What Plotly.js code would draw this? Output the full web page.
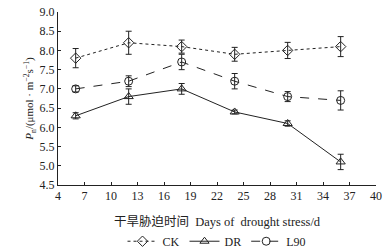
<!DOCTYPE html>
<html>
<head>
<meta charset="utf-8">
<script src="https://cdn.plot.ly/plotly-3.0.1.min.js"></script>
<style>html,body{margin:0;padding:0;background:#fff;}#chart{width:390px;height:252px;}</style>
</head>
<body>
<div id="chart"></div>
<script>
const days = [6, 12, 18, 24, 30, 36];
const ckValues = [7.8, 8.2, 8.1, 7.9, 8.0, 8.1];
const ckErrors = [0.25, 0.3, 0.17, 0.18, 0.21, 0.26];
const drValues = [6.3, 6.8, 7.0, 6.4, 6.1, 5.1];
const drErrors = [0.08, 0.2, 0.14, 0.05, 0.07, 0.2];
const l90Values = [7.0, 7.2, 7.7, 7.2, 6.8, 6.7];
const l90Errors = [0.08, 0.14, 0.2, 0.2, 0.13, 0.25];
const seriesNames = ['CK', 'DR', 'L90'];

const serif = 'Liberation Serif, Times New Roman, Noto Sans CJK SC, serif';
const ink = '#222';

function series(name, y, err, symbol, dash) {
  return {
    x: days, y: y, name: name, type: 'scatter', mode: 'lines+markers',
    line: {color: ink, width: 1, dash: dash},
    marker: {symbol: symbol, size: 8, color: ink, line: {color: ink, width: 1}},
    error_y: {type: 'data', array: err, visible: true, color: ink, thickness: 1, width: 3}
  };
}

const data = [
  series(seriesNames[0], ckValues, ckErrors, 'diamond-open', 'dot'),
  series(seriesNames[1], drValues, drErrors, 'triangle-up-open', 'solid'),
  series(seriesNames[2], l90Values, l90Errors, 'circle-open', 'dash')
];

const layout = {
  width: 390, height: 252,
  margin: {l: 58, r: 14, t: 12, b: 67, autoexpand: false},
  paper_bgcolor: '#fff', plot_bgcolor: '#fff',
  font: {family: serif, size: 12, color: ink},
  showlegend: true,
  legend: {orientation: 'h', x: 0.5, xanchor: 'center', y: -0.325, yanchor: 'middle',
           font: {family: serif, size: 12, color: ink}, tracegroupgap: 0},
  xaxis: {
    range: [4, 40], tick0: 4, dtick: 3, showgrid: false, zeroline: false,
    showline: true, linecolor: ink, linewidth: 1,
    ticks: 'inside', ticklen: 3, tickcolor: ink,
    tickfont: {family: serif, size: 12, color: ink},
    title: {text: '干旱胁迫时间  Days of  drought stress/d', font: {family: serif, size: 12.5, color: ink}, standoff: 14}
  },
  yaxis: {
    range: [4.5, 9.0], tick0: 4.5, dtick: 0.5, tickformat: '.1f', showgrid: false, zeroline: false,
    showline: true, linecolor: ink, linewidth: 1,
    ticks: 'inside', ticklen: 3, tickcolor: ink,
    tickfont: {family: serif, size: 12, color: ink},
    title: {text: '<i>P</i><sub>n</sub>/(μmol · m<sup>−2</sup>s<sup>−1</sup>)', font: {family: serif, size: 11, color: ink}, standoff: 3}
  }
};

Plotly.newPlot('chart', data, layout, {displayModeBar: false, staticPlot: true});
</script>
</body>
</html>
